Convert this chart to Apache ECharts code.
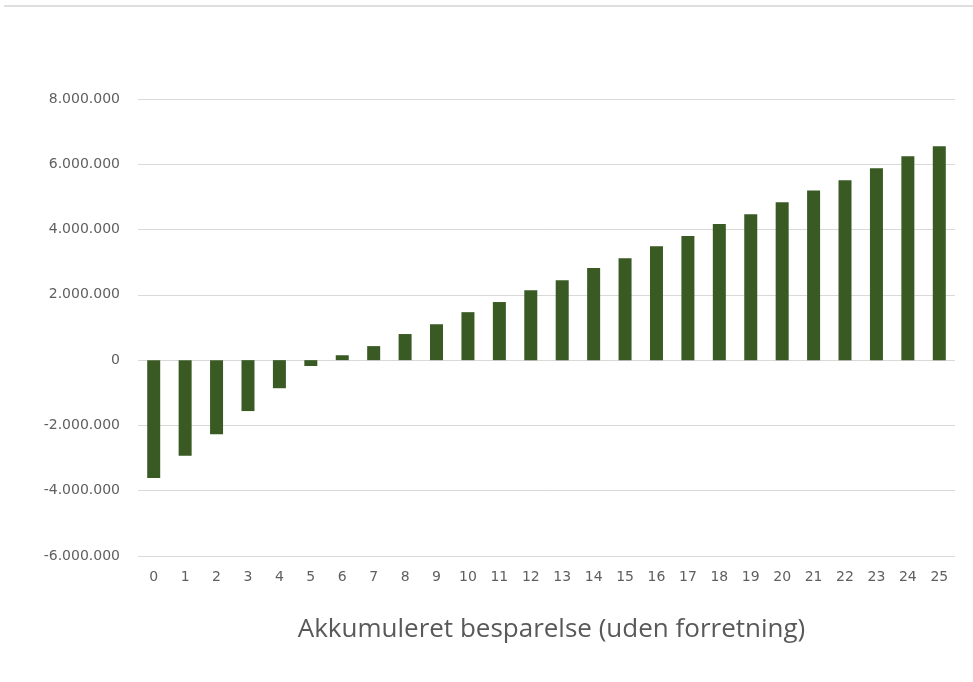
<!DOCTYPE html>
<html>
<head>
<meta charset="utf-8">
<script src="https://cdn.jsdelivr.net/npm/echarts@6/dist/echarts.min.js"></script>
<style>
html,body{margin:0;padding:0;background:#fff;}
#chart{width:973px;height:682px;}
</style>
</head>
<body>
<div id="chart"></div>
<script>
const categories = ['0','1','2','3','4','5','6','7','8','9','10','11','12','13','14','15','16','17','18','19','20','21','22','23','24','25'];
const savings = [-3610000,-2930000,-2270000,-1560000,-860000,-180000,150000,430000,800000,1100000,1470000,1780000,2140000,2450000,2820000,3120000,3490000,3800000,4170000,4470000,4840000,5200000,5510000,5880000,6250000,6550000];
const yMin = -6000000, yMax = 8000000, yStep = 2000000;
const axisTitle = 'Akkumuleret besparelse (uden forretning)';

function fmt(v){
  const s = Math.abs(v).toString().replace(/\B(?=(\d{3})+(?!\d))/g, '.');
  return (v < 0 ? '-' : '') + s;
}

const chart = echarts.init(document.getElementById('chart'));
chart.setOption({
  backgroundColor: '#ffffff',
  animation: false,
  graphic: [{
    type: 'rect',
    shape: { x: 4, y: 5, width: 969, height: 2 },
    style: { fill: '#dedede' },
    silent: true
  }],
  grid: { left: 138, right: 18, top: 99, bottom: 126 },
  xAxis: {
    type: 'category',
    data: categories,
    axisLine: { show: false, onZero: false },
    axisTick: { show: false },
    axisLabel: { color: '#5f5f5f', fontSize: 14, fontFamily: '"DejaVu Sans", sans-serif', margin: 14 },
    name: axisTitle,
    nameLocation: 'middle',
    nameGap: 61,
    nameTextStyle: { color: '#595959', fontSize: 26, fontFamily: '"Open Sans", sans-serif', padding: [0, 0, 0, 10] }
  },
  yAxis: {
    type: 'value',
    min: yMin, max: yMax, interval: yStep,
    axisLine: { show: false },
    axisTick: { show: false },
    splitLine: { lineStyle: { color: '#d9d9d9', width: 1 } },
    axisLabel: { color: '#5f5f5f', fontSize: 14, fontFamily: '"DejaVu Sans", sans-serif', margin: 18, formatter: fmt }
  },
  series: [{
    type: 'bar',
    data: savings,
    barWidth: 13,
    itemStyle: { color: '#3a5a24' }
  }]
});
</script>
</body>
</html>
